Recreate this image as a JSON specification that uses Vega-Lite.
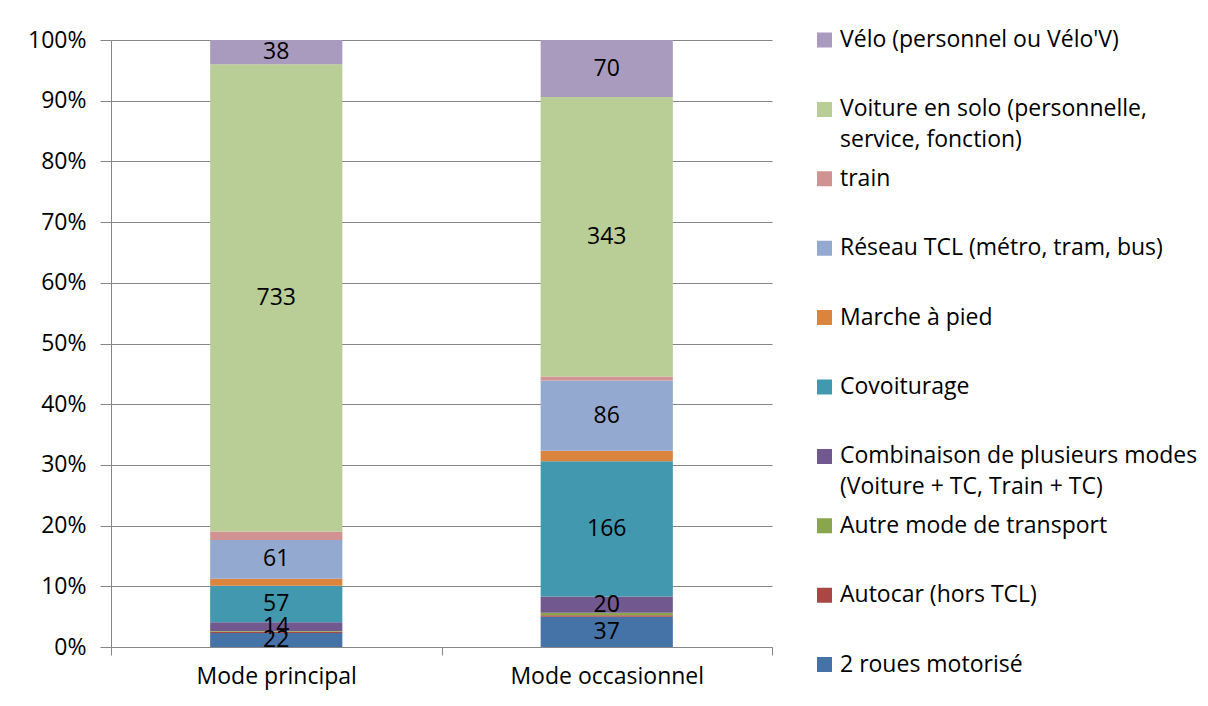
{
  "$schema": "https://vega.github.io/schema/vega-lite/v6.json",
  "width": 661,
  "height": 607,
  "autosize": {"type": "none"},
  "padding": {"left": 111, "top": 40, "right": 436, "bottom": 59},
  "background": "white",
  "config": {
    "font": "Open Sans",
    "view": {"stroke": null},
    "axis": {"labelFont": "Open Sans", "labelColor": "#000000", "labelFontSize": 23, "domainColor": "#868686", "tickColor": "#868686", "gridColor": "#868686", "titleFontSize": 20}
  },
  "data": {
    "values": [
      {"mode": "Mode principal", "serie": "2 roues motorisé", "rang": 1, "n": 22},
      {"mode": "Mode principal", "serie": "Autocar (hors TCL)", "rang": 2, "n": 2},
      {"mode": "Mode principal", "serie": "Autre mode de transport", "rang": 3, "n": 1},
      {"mode": "Mode principal", "serie": "Combinaison de plusieurs modes (Voiture + TC, Train + TC)", "rang": 4, "n": 14},
      {"mode": "Mode principal", "serie": "Covoiturage", "rang": 5, "n": 57},
      {"mode": "Mode principal", "serie": "Marche à pied", "rang": 6, "n": 11},
      {"mode": "Mode principal", "serie": "Réseau TCL (métro, tram, bus)", "rang": 7, "n": 61},
      {"mode": "Mode principal", "serie": "train", "rang": 8, "n": 13},
      {"mode": "Mode principal", "serie": "Voiture en solo (personnelle, service, fonction)", "rang": 9, "n": 733},
      {"mode": "Mode principal", "serie": "Vélo (personnel ou Vélo'V)", "rang": 10, "n": 38},
      {"mode": "Mode occasionnel", "serie": "2 roues motorisé", "rang": 1, "n": 37},
      {"mode": "Mode occasionnel", "serie": "Autocar (hors TCL)", "rang": 2, "n": 2},
      {"mode": "Mode occasionnel", "serie": "Autre mode de transport", "rang": 3, "n": 3},
      {"mode": "Mode occasionnel", "serie": "Combinaison de plusieurs modes (Voiture + TC, Train + TC)", "rang": 4, "n": 20},
      {"mode": "Mode occasionnel", "serie": "Covoiturage", "rang": 5, "n": 166},
      {"mode": "Mode occasionnel", "serie": "Marche à pied", "rang": 6, "n": 13},
      {"mode": "Mode occasionnel", "serie": "Réseau TCL (métro, tram, bus)", "rang": 7, "n": 86},
      {"mode": "Mode occasionnel", "serie": "train", "rang": 8, "n": 5},
      {"mode": "Mode occasionnel", "serie": "Voiture en solo (personnelle, service, fonction)", "rang": 9, "n": 343},
      {"mode": "Mode occasionnel", "serie": "Vélo (personnel ou Vélo'V)", "rang": 10, "n": 70}
    ]
  },
  "encoding": {
    "x": {
      "field": "mode",
      "type": "nominal",
      "sort": ["Mode principal", "Mode occasionnel"],
      "scale": {"paddingInner": 0, "paddingOuter": 0},
      "axis": {"title": null, "labelAngle": 0, "labelLimit": 400, "tickBand": "extent", "tickSize": 8, "labelPadding": 10, "domainColor": "#868686", "grid": false}
    }
  },
  "layer": [
    {
      "mark": {"type": "bar", "width": {"band": 0.4}},
      "encoding": {
        "y": {
          "field": "n",
          "type": "quantitative",
          "stack": "normalize",
          "scale": {"domain": [0, 1], "nice": false},
          "axis": {"title": null, "format": ".0%", "values": [0, 0.1, 0.2, 0.3, 0.4, 0.5, 0.6, 0.7, 0.8, 0.9, 1], "labelOverlap": false, "grid": true, "tickSize": 11, "labelPadding": 14, "gridWidth": 1}
        },
        "order": {"field": "rang", "type": "quantitative"},
        "color": {
          "field": "serie",
          "type": "nominal",
          "sort": ["Vélo (personnel ou Vélo'V)", "Voiture en solo (personnelle, service, fonction)", "train", "Réseau TCL (métro, tram, bus)", "Marche à pied", "Covoiturage", "Combinaison de plusieurs modes (Voiture + TC, Train + TC)", "Autre mode de transport", "Autocar (hors TCL)", "2 roues motorisé"],
          "scale": {
            "domain": ["Vélo (personnel ou Vélo'V)", "Voiture en solo (personnelle, service, fonction)", "train", "Réseau TCL (métro, tram, bus)", "Marche à pied", "Covoiturage", "Combinaison de plusieurs modes (Voiture + TC, Train + TC)", "Autre mode de transport", "Autocar (hors TCL)", "2 roues motorisé"],
            "range": ["#A99BBD", "#B9CD96", "#D19392", "#93A9CF", "#DB843D", "#4198AF", "#71588F", "#89A54E", "#AA4643", "#4572A7"]
          },
          "legend": {
            "title": null,
            "orient": "none",
            "legendX": 702,
            "legendY": -10,
            "symbolType": "square",
            "symbolSize": 225,
            "symbolStrokeWidth": 0,
            "labelFont": "Open Sans",
            "labelFontSize": 23,
            "labelColor": "#000000",
            "labelOffset": 4,
            "labelLimit": 500,
            "clipHeight": 20,
            "rowPadding": 15.4,
            "encode": {"labels": {"update": {"lineHeight": {"value": 31}}}},
            "labelExpr": "datum.label == 'Voiture en solo (personnelle, service, fonction)' ? ['Voiture en solo (personnelle,', 'service, fonction)'] : datum.label == 'Combinaison de plusieurs modes (Voiture + TC, Train + TC)' ? ['Combinaison de plusieurs modes', '(Voiture + TC, Train + TC)'] : [datum.label, '']"
          }
        }
      }
    },
    {
      "mark": {"type": "text", "fontSize": 23, "color": "#000000", "font": "Open Sans"},
      "encoding": {
        "y": {
          "field": "n",
          "type": "quantitative",
          "stack": "normalize",
          "bandPosition": 0.5,
          "scale": {"domain": [0, 1], "nice": false},
          "axis": {"title": null, "format": ".0%", "values": [0, 0.1, 0.2, 0.3, 0.4, 0.5, 0.6, 0.7, 0.8, 0.9, 1], "labelOverlap": false, "grid": true, "tickSize": 11, "labelPadding": 14, "gridWidth": 1}
        },
        "detail": {"field": "serie"},
        "order": {"field": "rang", "type": "quantitative"},
        "text": {"condition": {"test": "indexof([1, 4, 5, 7, 9, 10], datum.rang) >= 0", "field": "n", "type": "quantitative"}, "value": ""}
      }
    }
  ]
}
